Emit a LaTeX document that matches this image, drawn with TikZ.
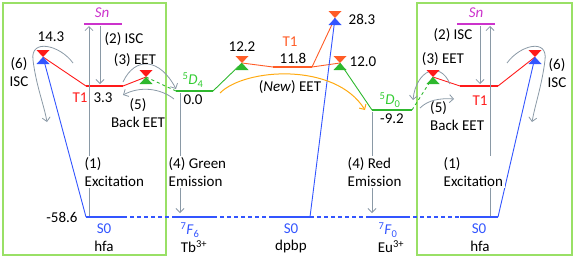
\documentclass[tikz,border=0pt]{standalone}
\usepackage{fontspec}
\setmainfont{Carlito}
\usetikzlibrary{arrows.meta,positioning}

\definecolor{lvred}{HTML}{FF1A1A}
\definecolor{lvorange}{HTML}{FF5C26}
\definecolor{lvblue}{HTML}{3355FF}
\definecolor{lvgreen}{HTML}{2EB82E}
\definecolor{lvlabgreen}{HTML}{33CC33}
\definecolor{lvmagenta}{HTML}{CC33CC}
\definecolor{lvgold}{HTML}{FFAA11}
\definecolor{lvgray}{HTML}{8A99A6}
\definecolor{boxgreen}{HTML}{99E066}

% two triangles meeting at their tips
\newcommand{\hourglass}[3]{%
  \fill[#2] ([shift={(-6.5,-7)}]#1) -- ([shift={(6.5,-7)}]#1) -- (#1) -- cycle;
  \fill[#3] ([shift={(-6.5,7)}]#1) -- ([shift={(6.5,7)}]#1) -- (#1) -- cycle;}

\begin{document}
\begin{tikzpicture}[x=1pt, y=-1pt,
  every node/.style={font=\fontsize{15}{18}\selectfont, inner sep=1pt},
  lvline/.style={line width=2pt},
  joinline/.style={line width=0.9pt},
  gapline/.style={draw=lvblue, line width=1.6pt, dash pattern=on 4pt off 3pt},
  transfer/.style={draw=lvgray, line width=0.8pt, -{Straight Barb[length=4pt,width=8pt]}},
  steplabel/.style={fill=white, align=left, inner sep=1.5pt, anchor=west},
  boxframe/.style={draw=boxgreen, line width=1.6pt}
]
\useasboundingbox (0,0) rectangle (575,258);

% ligand boxes
\draw[boxframe] (3,3) rectangle (166,255);
\draw[boxframe] (417,3) rectangle (572,255);

% energy levels
\coordinate (hfaSnA) at (84,24);   \coordinate (hfaSnB) at (122,24);
\coordinate (hfaTA) at (86,86);    \coordinate (hfaTB) at (123,86);
\coordinate (hfaSA) at (86,217);   \coordinate (hfaSB) at (123,217);
\coordinate (tbDA) at (176,91);    \coordinate (tbDB) at (213,91);
\coordinate (tbFA) at (175,217);   \coordinate (tbFB) at (213,217);
\coordinate (dpTA) at (273,67);    \coordinate (dpTB) at (312,67);
\coordinate (dpSA) at (273,217);   \coordinate (dpSB) at (310,217);
\coordinate (euDA) at (372,110);   \coordinate (euDB) at (412,110);
\coordinate (euFA) at (370,217);   \coordinate (euFB) at (406,217);
\coordinate (hfbSnA) at (457,24);  \coordinate (hfbSnB) at (495,24);
\coordinate (hfbTA) at (460,86);   \coordinate (hfbTB) at (498,86);
\coordinate (hfbSA) at (460,217);  \coordinate (hfbSB) at (498,217);

% crossing points
\coordinate (crossA) at (43,57);
\coordinate (crossB) at (146,77);
\coordinate (crossC) at (242,63);
\coordinate (crossD) at (335,18);
\coordinate (crossE) at (340,63);
\coordinate (crossF) at (433,77);
\coordinate (crossG) at (535,57);

\draw[lvline, lvmagenta] (hfaSnA) -- (hfaSnB);
\draw[lvline, lvred] (hfaTA) -- (hfaTB);
\draw[lvline, lvblue] (hfaSA) -- (hfaSB);
\draw[lvline, lvgreen] (tbDA) -- (tbDB);
\draw[lvline, lvblue] (tbFA) -- (tbFB);
\draw[lvline, lvorange] (dpTA) -- (dpTB);
\draw[lvline, lvblue] (dpSA) -- (dpSB);
\draw[lvline, lvgreen] (euDA) -- (euDB);
\draw[lvline, lvblue] (euFA) -- (euFB);
\draw[lvline, lvmagenta] (hfbSnA) -- (hfbSnB);
\draw[lvline, lvred] (hfbTA) -- (hfbTB);
\draw[lvline, lvblue] (hfbSA) -- (hfbSB);

\draw[gapline] (hfaSB) -- (tbFA);
\draw[gapline] (tbFB) -- (dpSA);
\draw[gapline] (dpSB) -- (euFA);
\draw[gapline] (euFB) -- (hfbSA);

% links to the crossing points
\draw[joinline, lvred] (crossA) -- (hfaTA);
\draw[joinline, lvred] (hfaTB) -- (crossB);
\draw[joinline, lvblue] (hfaSA) -- (crossA);
\draw[joinline, lvgreen, dashed] (crossB) -- (tbDA);
\draw[joinline, lvgreen] (tbDB) -- (crossC);
\draw[joinline, lvorange] (crossC) -- (dpTA);
\draw[joinline, lvorange] (dpTB) -- (crossD);
\draw[joinline, lvorange] (dpTB) -- (crossE);
\draw[joinline, lvblue] (dpSB) -- (crossD);
\draw[joinline, lvgreen] (crossE) -- (euDA);
\draw[joinline, lvgreen, dashed] (euDB) -- (crossF);
\draw[joinline, lvred] (crossF) -- (hfbTA);
\draw[joinline, lvred] (hfbTB) -- (crossG);
\draw[joinline, lvblue] (hfbSB) -- (crossG);

% transfer arrows
\coordinate (excA0) at (89,216);   \coordinate (excA1) at (89,26);
\coordinate (iscA0) at (100,26);   \coordinate (iscA1) at (100,84);
\coordinate (excB0) at (490,216);  \coordinate (excB1) at (490,26);
\coordinate (iscB0) at (480,26);   \coordinate (iscB1) at (480,84);
\coordinate (emG0) at (180,93);    \coordinate (emG1) at (180,213);
\coordinate (emR0) at (372,112);   \coordinate (emR1) at (372,213);
\draw[transfer] (excA0) -- (excA1);
\draw[transfer] (iscA0) -- (iscA1);
\draw[transfer] (excB0) -- (excB1);
\draw[transfer] (iscB0) -- (iscB1);
\draw[transfer] (emG0) -- (emG1);
\draw[transfer] (emR0) -- (emR1);

\coordinate (sixA0) at (73,63);    \coordinate (sixA1) at (47,122);
\coordinate (eetA0) at (123,82);   \coordinate (eetA1) at (176,89);
\coordinate (backA0) at (174,99);  \coordinate (backA1) at (123,95);
\coordinate (sixB0) at (507,63);   \coordinate (sixB1) at (532,122);
\coordinate (eetB0) at (450,84);   \coordinate (eetB1) at (413,100);
\coordinate (backB0) at (420,108); \coordinate (backB1) at (454,99);
\coordinate (newA0) at (220,93);   \coordinate (newA1) at (365,110);
\draw[transfer] (sixA0) .. controls (60,45) and (30,38) .. (33,60) .. controls (36,85) and (44,105) .. (sixA1);
\draw[transfer] (eetA0) .. controls (135,56) and (160,58) .. (eetA1);
\draw[transfer] (backA0) .. controls (160,88) and (140,86) .. (backA1);
\draw[transfer] (sixB0) .. controls (520,45) and (548,38) .. (545,60) .. controls (542,85) and (535,105) .. (sixB1);
\draw[transfer] (eetB0) .. controls (440,60) and (416,70) .. (eetB1);
\draw[transfer] (backB0) .. controls (428,100) and (440,98) .. (backB1);
\draw[transfer, draw=lvgold, line width=1pt] (newA0) .. controls (245,68) and (335,62) .. (newA1);

\hourglass{crossA}{lvred}{lvblue}
\hourglass{crossB}{lvred}{lvgreen}
\hourglass{crossC}{lvorange}{lvgreen}
\hourglass{crossD}{lvorange}{lvblue}
\hourglass{crossE}{lvorange}{lvgreen}
\hourglass{crossF}{lvred}{lvgreen}
\hourglass{crossG}{lvred}{lvblue}

% labels, hfa (left)
\node[text=lvmagenta] (snA) at (102,13) {\textit{Sn}};
\node (isctopA) at (124,39) {(2) ISC};
\node (engA) at (51,37) {14.3};
\node[align=center] (iscA) at (19,72) {(6)\\ISC};
\node (eetA) at (135,60) {(3) EET};
\node[text=lvred] (tA) at (80,98) {T1};
\node (engTA) at (103,98) {3.3};
\node[align=center] (backA) at (138,113) {(5)\\Back EET};
\node[steplabel] (excA) at (83,172) {(1)\\Excitation};
\node (engSA) at (62,217) {-58.6};
\node[text=lvblue] (sA) at (104,229) {S0};
\node (hfaA) at (104,246) {hfa};

% labels, Tb
\node[text=lvlabgreen] (dfour) at (193,80) {\textsuperscript{5}\textit{D}\textsubscript{4}};
\node (engDfour) at (193,100) {0.0};
\node[steplabel] (emG) at (167,172) {(4) Green\\Emission};
\node[text=lvblue] (fsix) at (190,230) {\textsuperscript{7}\textit{F}\textsubscript{6}};
\node (tb) at (194,247) {Tb\textsuperscript{3+}};

% labels, dpbp
\node (engC) at (242,47) {12.2};
\node[text=lvorange] (tD) at (290,42) {T1};
\node (engTD) at (293,58) {11.8};
\node (engD) at (362,19) {28.3};
\node (engE) at (363,62) {12.0};
\node (neweet) at (290,87) {(\textit{New}) EET};
\node[text=lvblue] (sD) at (291,229) {S0};
\node (dpbp) at (291,246) {dpbp};

% labels, Eu
\node[text=lvlabgreen] (dzero) at (390,100) {\textsuperscript{5}\textit{D}\textsubscript{0}};
\node (engDzero) at (392,119) {-9.2};
\node[steplabel] (emR) at (346,172) {(4) Red\\Emission};
\node[text=lvblue] (fzero) at (388,230) {\textsuperscript{7}\textit{F}\textsubscript{0}};
\node (eu) at (391,247) {Eu\textsuperscript{3+}};

% labels, hfa (right)
\node[text=lvmagenta] (snB) at (476,13) {\textit{Sn}};
\node (isctopB) at (453,35) {(2) ISC};
\node (eetB) at (443,59) {(3) EET};
\node[text=lvred] (tB) at (480,101) {T1};
\node[align=left, anchor=west] (backB) at (429,116) {(5)\\Back EET};
\node[align=center] (iscB) at (557,73) {(6)\\ISC};
\node[steplabel] (excB) at (442,172) {(1)\\Excitation};
\node[text=lvblue] (sB) at (479,229) {S0};
\node (hfaB) at (480,246) {hfa};
\end{tikzpicture}
\end{document}
